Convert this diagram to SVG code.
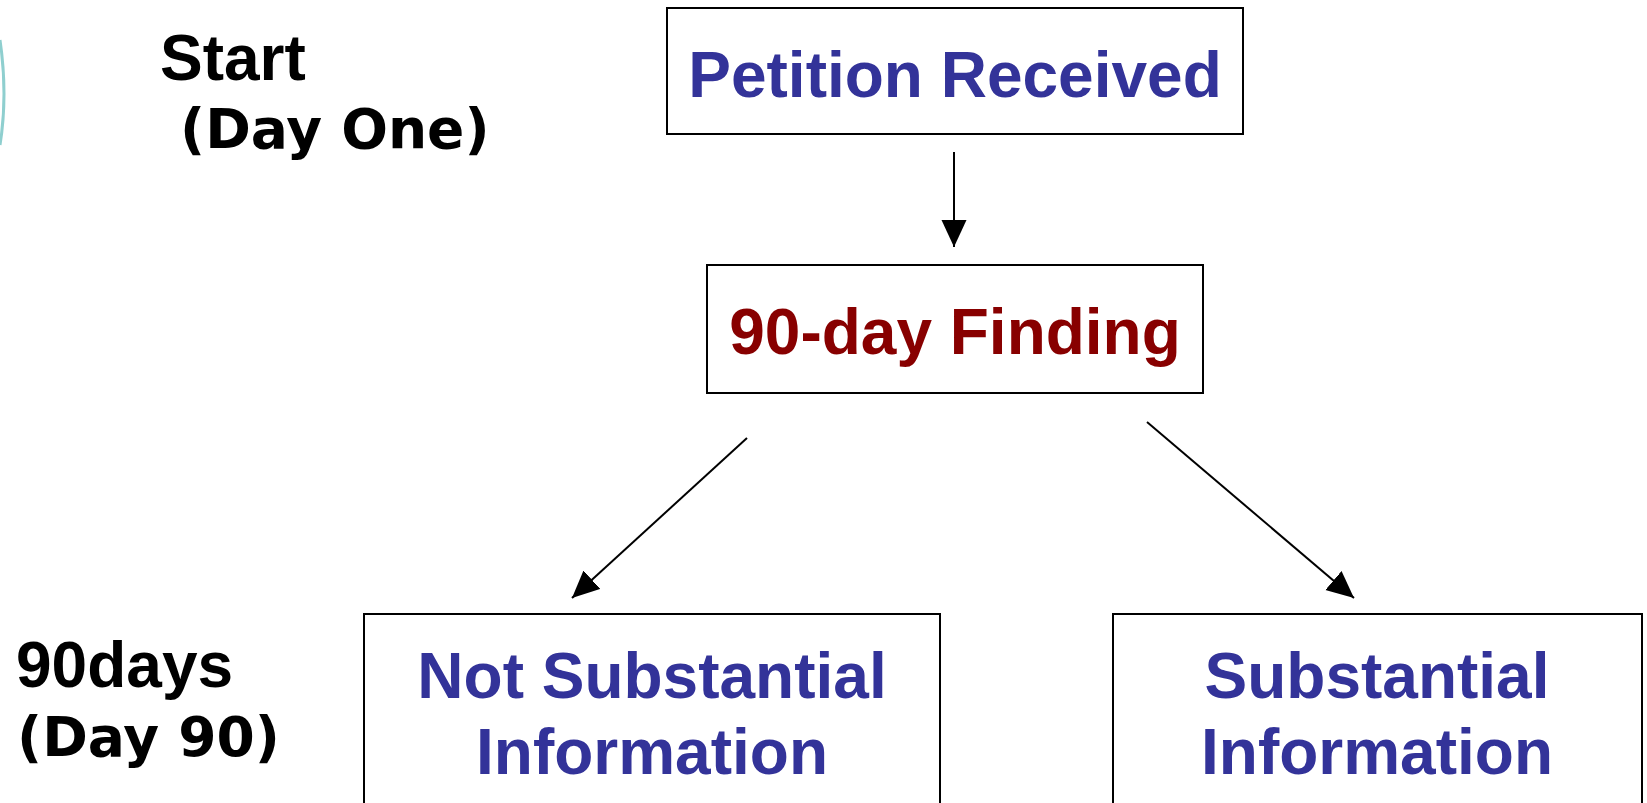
<svg xmlns="http://www.w3.org/2000/svg" width="1647" height="803" viewBox="0 0 1647 803">
<defs>
<style>
.box{fill:#fff;stroke:#000;stroke-width:2}
.t{font-family:"Liberation Sans",Arial,sans-serif;font-weight:bold;font-size:64px;text-anchor:middle}
.blue{fill:#333399}
.red{fill:#880000}
.lab{font-family:"Liberation Sans",Arial,sans-serif;font-weight:bold;font-size:64px;fill:#000}
.lab2{font-family:"DejaVu Sans",Verdana,sans-serif;font-weight:bold;font-size:55px;fill:#000}
.conn{stroke:#000;stroke-width:2;fill:none}
</style>
<marker id="ah" markerUnits="userSpaceOnUse" markerWidth="28" markerHeight="26" refX="27" refY="12.5" orient="auto">
<path d="M0,0 L27,12.5 L0,25 Z" fill="#000"/>
</marker>
</defs>
<rect width="1647" height="803" fill="#fff"/>
<path d="M0,40 Q8,95 0,145" fill="none" stroke="#8fcfcf" stroke-width="3"/>
<g id="label-start">
<text class="lab" x="160" y="80">Start</text>
<text class="lab2" x="180" y="148">(Day One)</text>
</g>
<g id="label-90days">
<text class="lab" x="16" y="687">90days</text>
<text class="lab2" x="17" y="756">(Day 90)</text>
</g>
<g id="node-petition">
<rect class="box" x="667" y="8" width="576" height="126"/>
<text class="t blue" x="955" y="97">Petition Received</text>
</g>
<g id="node-finding">
<rect class="box" x="707" y="265" width="496" height="128"/>
<text class="t red" x="955" y="354">90-day Finding</text>
</g>
<g id="node-not-substantial">
<rect class="box" x="364" y="614" width="576" height="200"/>
<text class="t blue" x="652" y="698">Not Substantial</text>
<text class="t blue" x="652" y="774">Information</text>
</g>
<g id="node-substantial">
<rect class="box" x="1113" y="614" width="529" height="200"/>
<text class="t blue" x="1377" y="698">Substantial</text>
<text class="t blue" x="1377" y="774">Information</text>
</g>
<g id="connectors">
<line class="conn" x1="954" y1="152" x2="954" y2="247" marker-end="url(#ah)"/>
<line class="conn" x1="747" y1="438" x2="572" y2="598" marker-end="url(#ah)"/>
<line class="conn" x1="1147" y1="422" x2="1354" y2="598" marker-end="url(#ah)"/>
</g>
</svg>
